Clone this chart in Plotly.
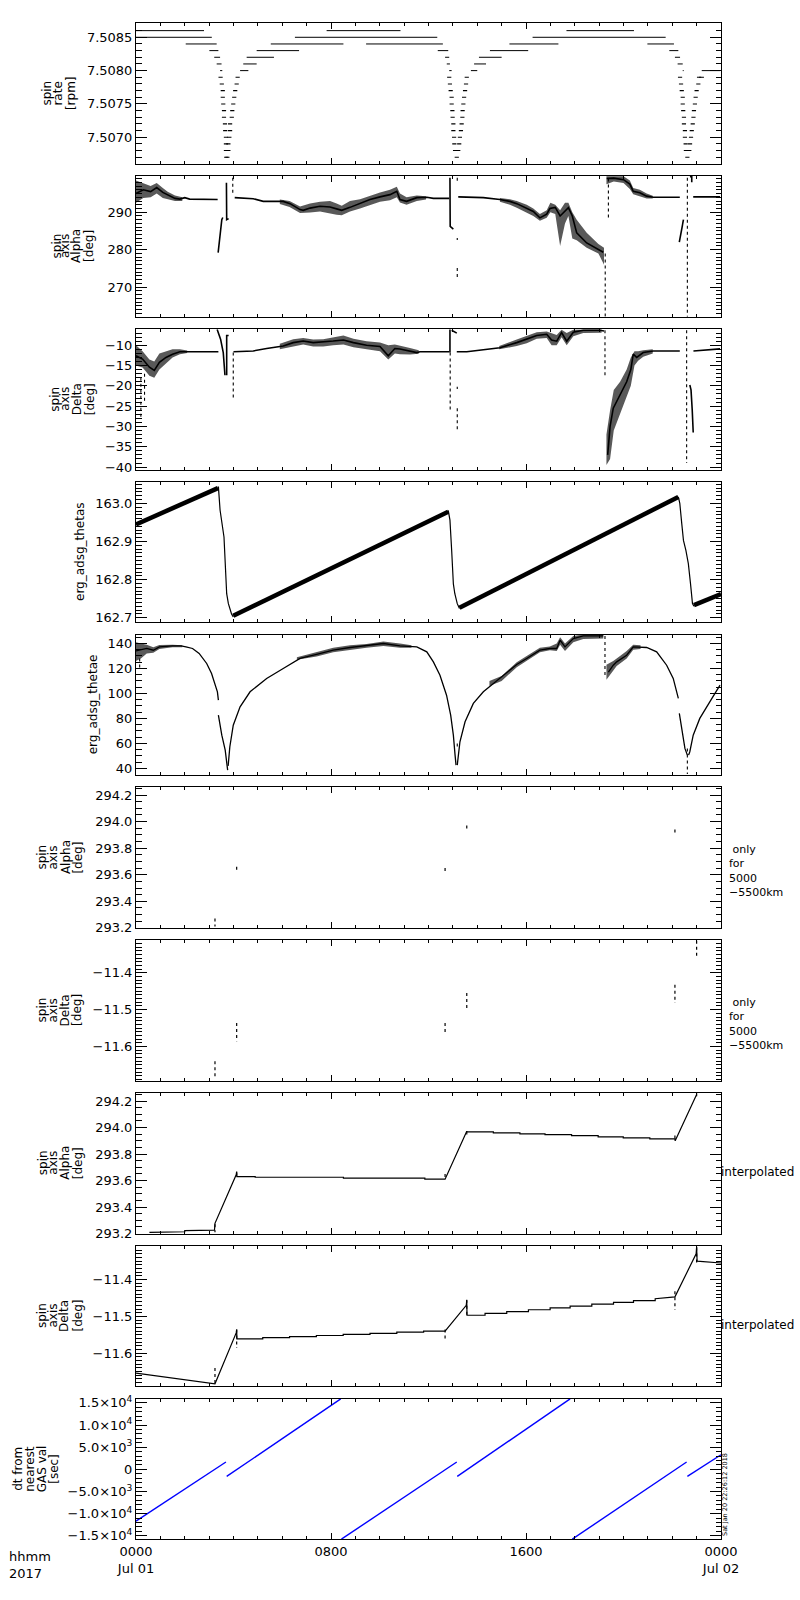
import plotly.graph_objects as go

# time axis: hours since 2017-07-01 0000 UT
X_TICKVALS = [0, 8, 16, 24]
X_TICKTEXT = ['0000<br>Jul 01', '0800', '1600', '0000<br>Jul 02']

# ---- panel 1: spin rate [rpm], quantised levels ----
SPIN_LEVEL = [7.5086, 7.5086, 7.5086,
              7.5085, 7.5085, 7.5085,
              7.5084, 7.5084, 7.5084, 7.5084, 7.5084,
              7.5083, 7.5083, 7.5083, 7.5083, 7.5083,
              7.5082, 7.5082, 7.5082, 7.5082, 7.5082,
              7.5081, 7.5081, 7.5081, 7.5081, 7.5081,
              7.5080, 7.5080, 7.5080, 7.5080, 7.5080, 7.5080,
              7.5079]
SPIN_T0 = [0.00, 7.82, 17.66,
           0.00, 6.52, 16.27,
           2.04, 5.53, 9.44, 15.32, 20.98,
           3.01, 4.95, 12.38, 14.52, 21.88,
           3.21, 4.54, 12.68, 14.07, 22.11,
           3.31, 4.40, 12.75, 13.87, 22.22,
           3.45, 4.27, 12.85, 13.74, 22.43, 23.21,
           23.10]
SPIN_T1 = [2.79, 10.85, 20.43,
           3.11, 12.36, 21.73,
           3.31, 8.51, 12.59, 17.33, 22.07,
           3.38, 6.69, 12.81, 16.09, 22.25,
           3.45, 5.66, 12.85, 15.00, 22.32,
           3.51, 4.95, 12.88, 14.36, 22.43,
           3.54, 4.61, 12.95, 14.00, 22.47, 23.96,
           23.30]
DIP_LEVELS = [7.5079, 7.5078, 7.5077, 7.5076, 7.5075, 7.5074,
              7.5073, 7.5072, 7.5071, 7.5070, 7.5069, 7.5068]
DIP1_DOWN_T = [3.47, 3.52, 3.56, 3.56, 3.58, 3.61, 3.61, 3.65, 3.66, 3.69, 3.69, 3.69]
DIP1_UP_T = [4.17, 4.13, 4.07, 4.03, 3.99, 3.95, 3.93, 3.86, 3.86, 3.83, 3.79, 3.79]
DIP2_DOWN_T = [12.85, 12.88, 12.91, 12.95, 12.95, 12.98, 12.99, 13.02, 13.02, 13.05, 13.06, 13.09]
DIP2_UP_T = [13.57, 13.54, 13.50, 13.46, 13.43, 13.40, 13.39, 13.36, 13.33, 13.29, 13.26, 13.22]
DIP3_DOWN_T = [22.32, 22.36, 22.39, 22.43, 22.43, 22.45, 22.48, 22.48, 22.52, 22.52, 22.55, 22.56]
DIP3_UP_T = [23.10, 23.07, 23.00, 22.96, 22.93, 22.89, 22.87, 22.84, 22.80, 22.77, 22.73, 22.70]
DIP_MIN_LEVEL = 7.5067
DIP_MIN_T = [3.70, 3.75, 13.16, 22.62]

# ---- panel 2: spin axis alpha [deg] ----
ALPHA_T = [0.0, 0.3, 0.6, 0.85, 1.1, 1.3, 1.6, 1.8, 2.0, 2.2, 3.35, None,
           3.37, 3.45, 3.52, 3.56, None,
           3.71, 3.72, 3.80, None,
           4.05, 4.81, 5.22, 6.04, 6.32, 6.73, 6.86, 7.14, 7.55, 7.96, 8.23, 8.44, 8.78,
           9.19, 9.6, 10.01, 10.42, 10.7, 10.83, 11.1, 11.52, 11.93, 12.2, 12.85, None,
           12.88, 12.89, 13.02, None,
           13.22, 14.25, 14.93, 15.34, 15.62, 16.03, 16.3, 16.57, 16.85, 16.98, 17.2, 17.4,
           17.74, 17.9, 18.08, 18.49, 18.97, 19.17, None,
           19.31, 19.6, 20.0, 20.26, 20.4, 20.67, 20.95, 21.22, 22.31, None,
           22.29, 22.39, 22.46, None,
           22.73, 22.80, 22.80, None,
           22.86, 23.96]
ALPHA_V = [295.0, 296.0, 295.5, 296.6, 295.3, 294.6, 293.7, 293.5, 293.9, 293.5, 293.4, None,
           279.2, 284.5, 288.0, 288.6, None,
           297.9, 288.0, 288.3, None,
           293.9, 293.6, 292.9, 292.9, 292.3, 290.7, 290.5, 291.1, 291.6, 291.4, 290.9, 290.5, 291.3,
           292.3, 293.4, 294.1, 294.7, 295.6, 293.4, 292.9, 293.9, 294.0, 293.7, 293.7, None,
           299.2, 286.2, 285.5, None,
           294.1, 293.9, 293.4, 292.9, 292.3, 291.1, 290.2, 288.5, 289.5, 291.0, 291.3, 289.0,
           291.2, 289.0, 284.5, 281.8, 280.0, 279.3, None,
           299.0, 299.1, 298.7, 297.5, 295.6, 295.2, 294.3, 294.0, 294.0, None,
           282.0, 286.2, 288.0, None,
           299.4, 299.6, 298.0, None,
           294.1, 294.1]
ALPHA_BAND_T = [0.0, 0.3, 0.6, 0.85, 1.1, 1.3, 1.6, 1.9, None,
                5.9, 6.3, 6.73, 7.14, 7.55, 7.96, 8.23, 8.44, 8.78, 9.19, 9.6, 10.01, 10.42,
                10.7, 10.83, 11.1, 11.52, 11.9, None,
                14.93, 15.34, 15.62, 16.03, 16.3, 16.57, 16.85, 17.0, 17.2, 17.4, 17.6, 17.74,
                17.9, 18.08, 18.49, 18.97, 19.2, None,
                19.3, 19.6, 20.0, 20.26, 20.4, 20.67, 20.95, 21.2]
ALPHA_BAND_LO = [292.5, 293.8, 294.0, 295.0, 293.8, 293.5, 293.0, 293.0, None,
                 292.2, 291.4, 289.8, 289.9, 290.2, 289.6, 289.3, 289.2, 290.2, 291.0, 292.0, 292.8, 293.2,
                 294.0, 292.6, 292.0, 293.0, 293.4, None,
                 292.8, 292.0, 291.2, 290.0, 289.0, 287.7, 288.5, 290.0, 289.5, 281.0, 287.0, 289.0,
                 283.0, 282.5, 280.5, 279.0, 276.0, None,
                 297.5, 298.2, 297.8, 296.2, 294.8, 294.3, 293.7, 293.7]
ALPHA_BAND_HI = [298.5, 297.8, 297.0, 297.8, 296.5, 295.5, 294.5, 294.0, None,
                 293.4, 293.0, 291.5, 292.3, 292.8, 293.0, 292.3, 291.7, 293.0, 293.5, 294.5, 295.3, 296.0,
                 296.8, 295.0, 294.0, 294.5, 294.3, None,
                 293.8, 293.5, 293.0, 292.0, 291.0, 289.5, 290.5, 292.5, 292.0, 290.5, 292.5, 292.5,
                 290.0, 288.0, 284.5, 281.5, 280.5, None,
                 299.6, 299.6, 299.6, 298.5, 296.5, 296.0, 295.0, 294.4]
ALPHA_DROP_T = [3.97, 13.18, 13.18, 13.18, 19.25, 19.38, 22.62]
ALPHA_DROP_TOP = [299.2, 299.2, 283.1, 275.1, 279.0, 299.0, 299.2]
ALPHA_DROP_BOT = [295.2, 297.9, 282.6, 272.4, 262.1, 288.0, 262.1]

# ---- panel 3: spin axis delta [deg] ----
DELTA_T = [0.0, 0.27, 0.55, 0.75, 0.96, 1.23, 1.5, 1.8, 2.08, 3.38, None,
           3.33, 3.47, 3.58, 3.65, None,
           3.72, 3.72, 3.80, None,
           4.0, 4.81, 5.36, 6.04, 6.45, 6.86, 7.27, 7.68, 8.09, 8.51, 8.92, 9.46, 10.01,
           10.35, 10.62, 10.83, 11.24, 11.52, 11.65, 12.85, None,
           12.88, 12.88, None,
           12.95, 13.16, None,
           13.16, 13.57, 14.25, 14.93, 15.62, 16.03, 16.44, 16.85, 17.05, 17.26, 17.46,
           17.67, 17.94, 18.35, 19.03, 19.2, None,
           19.35, 19.45, 19.58, 19.86, 20.13, 20.3, 20.4, 20.54, 20.81, 21.22, 22.31, None,
           22.72, 22.77, 22.82, 22.86, None,
           22.87, 23.96]
DELTA_V = [-12.6, -13.4, -15.4, -16.2, -14.2, -13.0, -12.2, -11.6, -11.6, -11.6, None,
           -6.1, -8.5, -11.8, -17.4, None,
           -17.4, -7.6, -7.6, None,
           -11.6, -11.4, -10.8, -10.2, -9.35, -8.96, -9.35, -9.2, -8.96, -8.7, -9.35, -10.0, -10.3,
           -12.6, -10.8, -10.9, -11.4, -11.8, -11.6, -11.6, None,
           -6.1, -11.8, None,
           -6.3, -7.0, None,
           -11.6, -11.6, -11.1, -10.6, -9.35, -8.55, -7.58, -7.3, -8.7, -9.0, -6.9,
           -9.0, -6.8, -6.3, -6.3, -6.5, None,
           -37.0, -30.0, -25.5, -22.2, -19.0, -16.0, -12.2, -13.0, -11.8, -11.4, -11.4, None,
           -19.8, -21.0, -26.0, -31.5, None,
           -11.4, -10.9]
DELTA_BAND_T = [0.0, 0.27, 0.55, 0.75, 0.96, 1.23, 1.5, 1.8, 2.1, None,
                5.9, 6.45, 6.86, 7.27, 7.68, 8.09, 8.51, 8.92, 9.46, 10.01, 10.35, 10.62, 10.83,
                11.24, 11.6, None,
                14.9, 15.62, 16.03, 16.44, 16.85, 17.05, 17.26, 17.46, 17.67, 17.94, 18.35, 19.1, None,
                19.3, 19.45, 19.6, 19.86, 20.13, 20.3, 20.45, 20.6, 20.81, 21.2]
DELTA_BAND_LO = [-15.0, -15.5, -17.5, -18.0, -16.0, -14.5, -13.0, -12.2, -11.9, None,
                 -11.0, -10.3, -9.8, -10.3, -10.3, -10.0, -9.8, -10.5, -11.0, -11.5, -13.5, -12.0, -12.2,
                 -12.3, -12.1, None,
                 -11.0, -10.2, -9.5, -8.4, -8.2, -10.0, -10.0, -8.0, -10.0, -7.8, -7.0, -6.9, None,
                 -39.5, -38.0, -31.0, -27.0, -23.0, -20.0, -15.0, -13.8, -12.8, -12.0]
DELTA_BAND_HI = [-10.0, -11.5, -13.5, -14.0, -12.0, -11.5, -11.0, -11.0, -11.3, None,
                 -9.6, -8.5, -8.2, -8.6, -8.5, -8.0, -7.6, -8.4, -9.0, -9.3, -10.0, -9.8, -10.0,
                 -10.7, -11.2, None,
                 -10.2, -8.6, -7.8, -6.8, -6.6, -7.0, -7.5, -6.2, -7.0, -6.2, -6.1, -6.1, None,
                 -32.0, -26.0, -21.0, -19.0, -16.0, -13.0, -11.5, -11.5, -11.2, -11.0]
DELTA_DROP_T = [0.2, 0.35, 3.99, 12.89, 13.18, 13.18, 19.24, 22.59]
DELTA_DROP_TOP = [-18.0, -17.0, -11.8, -11.8, -20.2, -25.5, -6.3, -6.3]
DELTA_DROP_BOT = [-28.0, -24.0, -22.9, -26.3, -20.8, -31.1, -17.4, -39.0]

# ---- panel 4: erg_adsg_thetas ----
THETAS_RISE_T = [0.0, 3.36, None, 3.99, 12.81, None, 13.27, 22.25, None, 22.89, 24.0]
THETAS_RISE_V = [162.945, 163.040, None, 162.705, 162.978, None, 162.726, 163.017, None, 162.733, 162.762]
THETAS_DROP_T = [3.36, 3.38, 3.45, 3.56, 3.61, 3.72, 3.79, 3.92, 3.99, None,
                 12.81, 12.88, 12.95, 13.02, 13.08, 13.18, 13.27, None,
                 22.25, 22.31, 22.39, 22.46, 22.56, 22.66, 22.75, 22.83, 22.89]
THETAS_DROP_V = [163.040, 163.044, 162.982, 162.933, 162.912, 162.763, 162.737, 162.710, 162.702, None,
                 162.982, 162.956, 162.877, 162.789, 162.763, 162.737, 162.724, None,
                 163.017, 163.000, 162.947, 162.903, 162.877, 162.842, 162.789, 162.737, 162.730]

# ---- panel 5: erg_adsg_thetae ----
THETAE_T = [0.0, 0.44, 0.71, 0.96, 1.5, 1.85, 2.05, 2.32, 2.59, 2.9, 3.1, 3.24, 3.34, 3.38, None,
            3.38, 3.52, 3.66, 3.76, None,
            3.78, 3.85, 3.99, 4.27, 4.68, 5.36, 6.04, 6.73, 7.41, 8.09, 8.78, 9.46, 10.15, 10.83,
            11.52, 11.93, 12.2, 12.47, 12.74, 12.91, 13.02, 13.09, 13.13, None,
            13.18, 13.29, 13.5, 13.84, 14.25, 14.93, 15.62, 16.03, 16.57, 16.98, 17.26, 17.4,
            17.6, 17.94, 18.35, 19.17, None,
            19.38, 19.58, 19.72, 20.13, 20.4, 20.95, 21.36, 21.77, 22.04, 22.25, None,
            22.29, 22.43, 22.52, 22.62, None,
            22.67, 22.72, 22.86, 23.13, 23.54, 23.96]
THETAE_V = [134.0, 136.0, 134.6, 137.3, 138.1, 138.1, 137.3, 136.0, 132.0, 124.0, 116.0, 108.0, 101.3, 94.6, None,
            82.6, 66.6, 54.6, 38.6, None,
            42.0, 57.3, 74.6, 89.3, 101.3, 112.0, 120.0, 128.0, 131.2, 134.6, 136.8, 138.1, 140.0, 138.1,
            137.3, 133.3, 125.3, 114.6, 98.6, 82.6, 66.6, 50.6, 42.6, None,
            42.6, 61.3, 77.3, 92.0, 101.3, 112.0, 123.2, 128.0, 134.6, 136.0, 136.0, 142.6,
            137.3, 144.0, 146.1, 146.1, None,
            117.0, 122.6, 125.3, 130.6, 137.3, 136.8, 133.3, 122.6, 112.0, 96.0, None,
            84.0, 66.6, 56.0, 50.6, None,
            50.6, 53.3, 66.6, 80.0, 93.3, 106.6]
THETAE_BAND_T = [0.0, 0.2, 0.44, 0.71, 0.96, 1.5, 1.9, None,
                 6.6, 7.41, 8.09, 8.78, 9.46, 10.15, 10.83, 11.3, None,
                 14.5, 15.0, 15.62, 16.03, 16.57, 16.98, 17.26, 17.4, 17.6, 17.94, 18.35, 19.17, None,
                 19.3, 19.58, 19.72, 20.13, 20.4, 20.7]
THETAE_BAND_LO = [126, 128, 132, 132.5, 135.5, 137, 137, None,
                  127, 129.5, 133, 135, 136.5, 138, 136.5, 136.5, None,
                  106, 110, 121, 126, 133, 134.5, 134, 139, 134, 141, 143.5, 144, None,
                  111, 118, 122, 128, 135, 135.5]
THETAE_BAND_HI = [141, 140, 139, 137, 138.8, 139, 138.5, None,
                  129, 133, 136.5, 138.5, 139.5, 141.5, 140, 138.5, None,
                  110, 114, 125, 130, 136.5, 137.5, 140, 145, 140, 146, 147.2, 147.2, None,
                  123, 126, 128, 134, 139, 138.5]
THETAE_DROP_T = [0.15, 13.18, 19.24, 22.62]
THETAE_DROP_TOP = [128.0, 60.0, 146.0, 56.0]
THETAE_DROP_BOT = [120.0, 57.0, 114.6, 35.5]

# ---- panels 6/7: spin axis only for 5000-5500 km ----
ONLY_T = [3.24, 4.13, 12.68, 13.57, 22.11, 23.00]
ONLY_ALPHA_LO = [293.21, 293.625, 293.61, 293.94, 293.90, 294.22]
ONLY_ALPHA_HI = [293.27, 293.66, 293.65, 293.97, 293.94, 294.26]
ONLY_DELTA_LO = [-11.685, -11.586, -11.568, -11.500, -11.482, -11.354]
ONLY_DELTA_HI = [-11.640, -11.536, -11.536, -11.455, -11.432, -11.313]

# ---- panels 8/9: interpolated spin axis ----
INTERP_ALPHA_T = [0.55, 1.26, 1.26, 2.0, 2.0, 3.22, 3.24, 4.11, 4.13, 4.14, 4.89, 4.89, 8.51, 8.51,
                  11.85, 11.85, 12.68, 13.55, 13.57, 13.58, 14.66, 14.66, 15.75, 15.75, 16.78, 16.78,
                  17.87, 17.87, 18.96, 18.96, 19.99, 19.99, 21.08, 21.08, 22.11, 22.12, 23.0]
INTERP_ALPHA_V = [293.208, 293.208, 293.213, 293.213, 293.222, 293.226, 293.277, 293.643, 293.668, 293.63,
                  293.63, 293.625, 293.625, 293.618, 293.618, 293.61, 293.61, 293.965, 293.972, 293.967,
                  293.967, 293.96, 293.96, 293.952, 293.952, 293.947, 293.947, 293.94, 293.94, 293.93,
                  293.93, 293.922, 293.922, 293.914, 293.914, 293.90, 294.25]
INTERP_DELTA_T = [0.0, 3.22, 3.24, 4.11, 4.13, 4.14, 5.2, 5.2, 6.3, 6.3, 7.4, 7.4, 8.5, 8.5, 9.6, 9.6,
                  10.7, 10.7, 11.8, 11.8, 12.68, 13.55, 13.57, 13.58, 14.32, 14.32, 15.21, 15.21,
                  16.10, 16.10, 16.99, 16.99, 17.81, 17.81, 18.70, 18.70, 19.59, 19.59, 20.41, 20.41,
                  21.30, 21.30, 22.11, 22.98, 23.0, 23.02, 24.0]
INTERP_DELTA_V = [-11.654, -11.683, -11.683, -11.545, -11.536, -11.561, -11.561, -11.558, -11.558, -11.555,
                  -11.555, -11.552, -11.552, -11.549, -11.549, -11.546, -11.546, -11.543, -11.543, -11.540,
                  -11.540, -11.470, -11.456, -11.497, -11.497, -11.492, -11.492, -11.487, -11.487, -11.482,
                  -11.482, -11.477, -11.477, -11.472, -11.472, -11.467, -11.467, -11.462, -11.462, -11.457,
                  -11.457, -11.452, -11.447, -11.330, -11.311, -11.350, -11.355]

# ---- panel 10: dt from nearest GAS val [sec] ----
DT_T = [0.0, 3.69, None, 3.72, 8.40, None, 8.43, 13.16, None, 13.18, 17.81, None, 17.90, 22.59, None, 22.62, 24.0]
DT_V = [-11700, 1650, None, -1600, 15900, None, -15740, 1650, None, -1600, 15900, None, -15740, 1650, None, -1600, 3300]
DT_TICKVALS = [-15000, -10000, -5000, 0, 5000, 10000, 15000]
DT_TICKTEXT = ['\u22121.5\u00d710<sup>4</sup>', '\u22121.0\u00d710<sup>4</sup>', '\u22125.0\u00d710<sup>3</sup>', '0',
               '5.0\u00d710<sup>3</sup>', '1.0\u00d710<sup>4</sup>', '1.5\u00d710<sup>4</sup>']

# axis settings per panel: range, major step, minor step, format
Y_RANGES = [[7.50660, 7.50871], [262.1, 299.65], [-40.6, -5.97], [162.688, 163.057], [34.6, 147.2],
            [293.2, 294.258], [-11.693, -11.311], [293.2, 294.262], [-11.69, -11.308], [-15740, 15990]]
Y_DTICK = [0.0005, 10, 5, 0.1, 20, 0.2, 0.1, 0.2, 0.1, 5000]
Y_MINOR = [0.0001, 1, 1, 0.01, 5, 0.05, 0.01, 0.05, 0.01, 1000]
Y_FORMAT = ['.4f', 'd', 'd', '.1f', 'd', '.1f', '.1f', '.1f', '.1f', '']

TITLE_LINES = [['spin', 'rate', '[rpm]'],
               ['spin', 'axis', 'Alpha', '[deg]'],
               ['spin', 'axis', 'Delta', '[deg]'],
               ['erg_adsg_thetas'],
               ['erg_adsg_thetae'],
               ['spin', 'axis', 'Alpha', '[deg]'],
               ['spin', 'axis', 'Delta', '[deg]'],
               ['spin', 'axis', 'Alpha', '[deg]'],
               ['spin', 'axis', 'Delta', '[deg]'],
               ['dt from', 'nearest', 'GAS val', '[sec]']]
TITLE_X = [[47, 58, 70.5], [57, 65.5, 76.5, 89.5], [55.5, 65.5, 77, 90], [80], [92.5],
           [42, 53, 65.5, 78], [42, 53, 65, 77.5], [43, 53.5, 65.5, 78], [42, 52.5, 64, 77.5],
           [18, 30, 41.5, 54]]
ONLY_TEXT = ' only<br>for<br>5000<br>\u22125500km'

# page geometry (pixels)
FIG_W, FIG_H = 800, 1600
PLOT_L, PLOT_R = 136, 721
PANEL_TOP, PANEL_H, PANEL_STEP = 23.3, 140.6, 152.8
FONT = 'DejaVu Sans'
BLACK = 'black'


def panel_dom(i):
    top = PANEL_TOP + i * PANEL_STEP
    return [1 - (top + PANEL_H) / FIG_H, 1 - top / FIG_H]


def px_to_paper_x(px):
    return (px - PLOT_L) / (PLOT_R - PLOT_L)


def band_xy(t, lo, hi):
    xs, ys, seg = [], [], []
    for a, b, c in list(zip(t, lo, hi)) + [(None, None, None)]:
        if a is None:
            if seg:
                xs += [s[0] for s in seg] + [s[0] for s in reversed(seg)] + [None]
                ys += [s[1] for s in seg] + [s[2] for s in reversed(seg)] + [None]
            seg = []
        else:
            seg.append((a, b, c))
    return xs, ys


def vsegs(t, top, bot):
    xs, ys = [], []
    for a, b, c in zip(t, top, bot):
        xs += [a, a, None]
        ys += [b, c, None]
    return xs, ys


def hsegs(level, t0, t1):
    xs, ys = [], []
    for v, a, b in zip(level, t0, t1):
        xs += [a, b, None]
        ys += [v, v, None]
    return xs, ys


fig = go.Figure()


def add_line(n, x, y, width=1.0, color=BLACK, dash='solid'):
    fig.add_trace(go.Scatter(x=x, y=y, mode='lines', xaxis=f'x{n}', yaxis=f'y{n}',
                             line=dict(color=color, width=width, dash=dash),
                             connectgaps=False, hoverinfo='skip'))


def add_band(n, t, lo, hi):
    bx, by = band_xy(t, lo, hi)
    fig.add_trace(go.Scatter(x=bx, y=by, mode='lines', fill='toself', xaxis=f'x{n}', yaxis=f'y{n}',
                             fillcolor='rgba(0,0,0,0.65)', line=dict(width=0),
                             hoverinfo='skip'))


# panel 1
sx, sy = hsegs(SPIN_LEVEL, SPIN_T0, SPIN_T1)
add_line(1, sx, sy, width=1.0)
dip_t = DIP1_DOWN_T + DIP1_UP_T + DIP2_DOWN_T + DIP2_UP_T + DIP3_DOWN_T + DIP3_UP_T + DIP_MIN_T
dip_v = DIP_LEVELS * 6 + [DIP_MIN_LEVEL] * len(DIP_MIN_T)
fig.add_trace(go.Scatter(x=dip_t, y=dip_v, mode='markers', xaxis='x1', yaxis='y1',
                         marker=dict(symbol='line-ew', size=3, line=dict(color=BLACK, width=1.1)),
                         hoverinfo='skip'))

# panel 2
add_band(2, ALPHA_BAND_T, ALPHA_BAND_LO, ALPHA_BAND_HI)
add_line(2, ALPHA_T, ALPHA_V, width=1.6)
dx, dy = vsegs(ALPHA_DROP_T, ALPHA_DROP_TOP, ALPHA_DROP_BOT)
add_line(2, dx, dy, width=1.1, dash='dot')

# panel 3
add_band(3, DELTA_BAND_T, DELTA_BAND_LO, DELTA_BAND_HI)
add_line(3, DELTA_T, DELTA_V, width=1.6)
dx, dy = vsegs(DELTA_DROP_T, DELTA_DROP_TOP, DELTA_DROP_BOT)
add_line(3, dx, dy, width=1.1, dash='dot')

# panel 4
add_line(4, THETAS_RISE_T, THETAS_RISE_V, width=4.5)
add_line(4, THETAS_DROP_T, THETAS_DROP_V, width=1.2)

# panel 5
add_band(5, THETAE_BAND_T, THETAE_BAND_LO, THETAE_BAND_HI)
add_line(5, THETAE_T, THETAE_V, width=1.3)
dx, dy = vsegs(THETAE_DROP_T, THETAE_DROP_TOP, THETAE_DROP_BOT)
add_line(5, dx, dy, width=1.1, dash='dot')

# panels 6-9
ax_, ay_ = vsegs(ONLY_T, ONLY_ALPHA_HI, ONLY_ALPHA_LO)
dx_, dy_ = vsegs(ONLY_T, ONLY_DELTA_HI, ONLY_DELTA_LO)
add_line(6, ax_, ay_, width=1.2, dash='dot')
add_line(7, dx_, dy_, width=1.2, dash='dot')
add_line(8, INTERP_ALPHA_T, INTERP_ALPHA_V, width=1.2)
add_line(8, ax_, ay_, width=1.2, dash='dot')
add_line(9, INTERP_DELTA_T, INTERP_DELTA_V, width=1.2)
add_line(9, dx_, dy_, width=1.2, dash='dot')

# panel 10
add_line(10, DT_T, DT_V, width=1.4, color='#0000ff')

axis_common = dict(showline=True, linecolor=BLACK, linewidth=1, mirror='ticks', ticks='inside',
                   tickcolor=BLACK, tickwidth=1, showgrid=False, zeroline=False, automargin=False,
                   tickfont=dict(family=FONT, size=13, color=BLACK))
layout = {}
for i in range(10):
    n = i + 1
    xa = 'xaxis' if n == 1 else f'xaxis{n}'
    ya = 'yaxis' if n == 1 else f'yaxis{n}'
    layout[xa] = dict(axis_common, domain=[0, 1], anchor=f'y{n}', range=[0, 24],
                      tickvals=X_TICKVALS, ticktext=X_TICKTEXT, ticklen=6,
                      showticklabels=(n == 10),
                      minor=dict(dtick=1, tick0=0, ticklen=3, ticks='inside', tickcolor=BLACK, tickwidth=1))
    ya_dict = dict(axis_common, domain=panel_dom(i), anchor=f'x{n}', range=Y_RANGES[i],
                   dtick=Y_DTICK[i], tick0=0, ticklen=11,
                   minor=dict(dtick=Y_MINOR[i], tick0=0, ticklen=5.5, ticks='inside',
                              tickcolor=BLACK, tickwidth=1))
    if n == 10:
        ya_dict.update(tickvals=DT_TICKVALS, ticktext=DT_TICKTEXT)
    else:
        ya_dict.update(tickformat=Y_FORMAT[i])
    layout[ya] = ya_dict

annotations = []
for i in range(10):
    d = panel_dom(i)
    yc = (d[0] + d[1]) / 2
    for word, px in zip(TITLE_LINES[i], TITLE_X[i]):
        annotations.append(dict(text=word, x=px_to_paper_x(px), y=yc, xref='paper', yref='paper',
                                xanchor='center', yanchor='middle', textangle=-90, showarrow=False,
                                font=dict(family=FONT, size=12, color=BLACK)))

for i in (5, 6):
    top = PANEL_TOP + i * PANEL_STEP
    annotations.append(dict(text=ONLY_TEXT, x=px_to_paper_x(727), y=1 - (top + 84) / FIG_H,
                            xref='paper', yref='paper', xanchor='left', yanchor='middle',
                            align='left', showarrow=False,
                            font=dict(family=FONT, size=11, color=BLACK)))
for i in (7, 8):
    top = PANEL_TOP + i * PANEL_STEP
    annotations.append(dict(text='interpolated', x=px_to_paper_x(719), y=1 - (top + 79) / FIG_H,
                            xref='paper', yref='paper', xanchor='left', yanchor='middle',
                            showarrow=False, font=dict(family=FONT, size=12, color=BLACK)))

# bottom-left labels and the plot time stamp
annotations += [
    dict(text='hhmm<br>2017', x=px_to_paper_x(7), y=1 - 1547 / FIG_H, xref='paper', yref='paper',
         xanchor='left', yanchor='top', align='left', showarrow=False,
         font=dict(family=FONT, size=13, color=BLACK)),
    dict(text='Sat Jan 20 22:26:12 2018', x=px_to_paper_x(725), y=1 - 1495 / FIG_H,
         xref='paper', yref='paper', xanchor='center', yanchor='middle', textangle=-90,
         showarrow=False, font=dict(family=FONT, size=6.5, color=BLACK)),
]

fig.update_layout(
    width=FIG_W, height=FIG_H,
    margin=dict(l=PLOT_L, r=FIG_W - PLOT_R, t=0, b=0),
    paper_bgcolor='white', plot_bgcolor='white',
    showlegend=False,
    annotations=annotations,
    **layout,
)

fig.write_html("out.html", config={'displayModeBar': False},
               post_script="document.body.style.margin='0px';")
